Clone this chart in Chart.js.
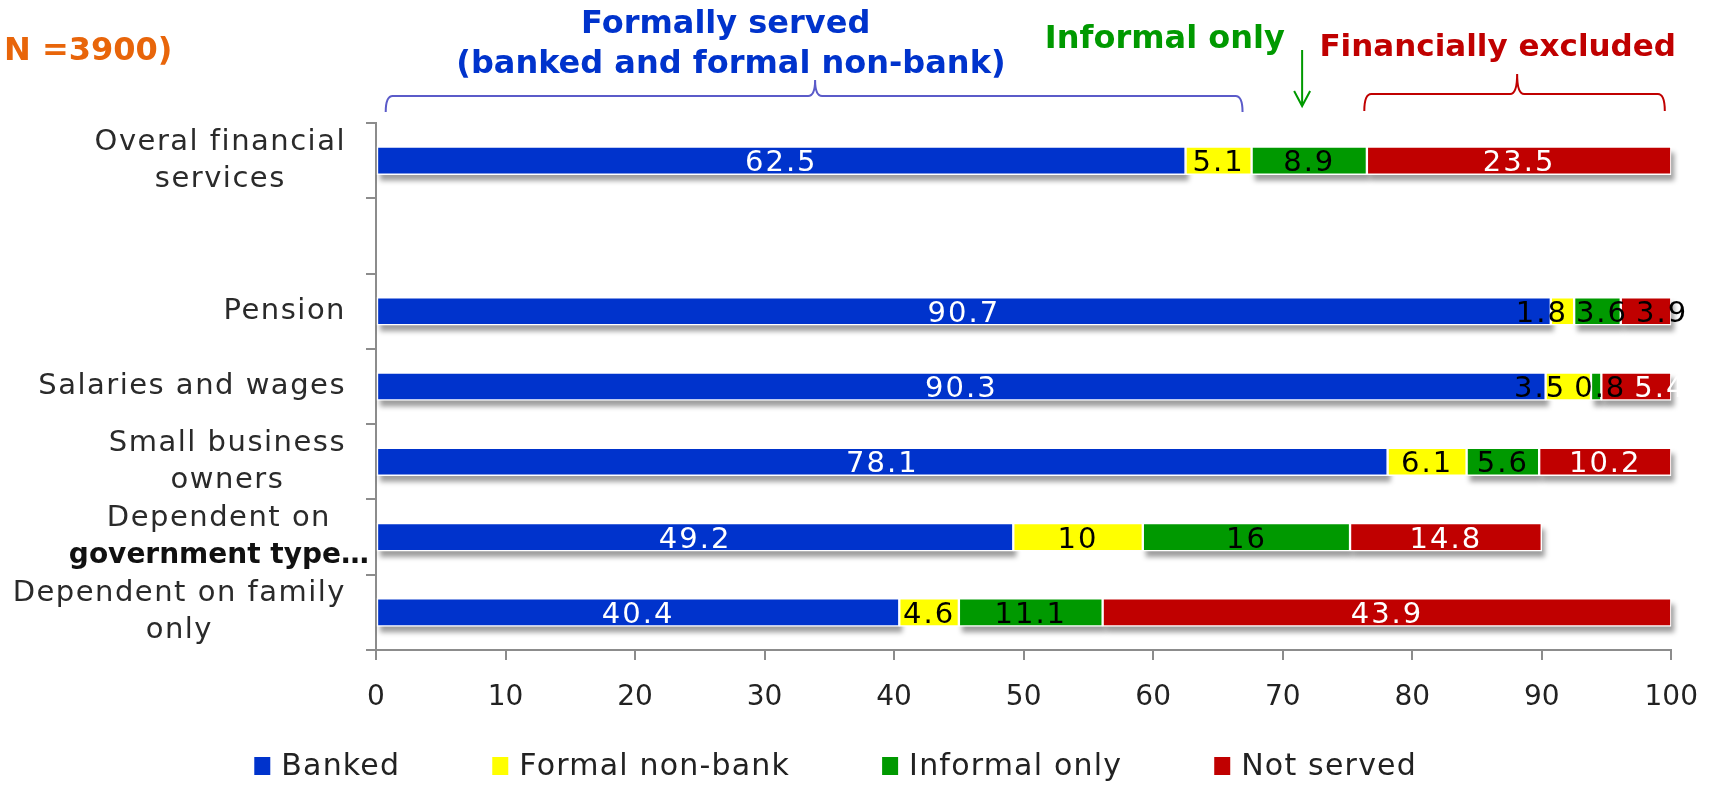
<!DOCTYPE html>
<html>
<head>
<meta charset="utf-8">
<title>Access to financial services by main income source</title>
<script src="https://cdn.jsdelivr.net/npm/chart.js@4.4.1/dist/chart.umd.min.js"></script>
<style>
  html, body { margin: 0; padding: 0; background: #fff; }
  #wrap { width: 1719px; height: 785px; }
</style>
</head>
<body>
<div id="wrap"><canvas id="chart" width="1719" height="785"></canvas></div>
<script>
// rows, top to bottom (the blank row separates the overall bar from the breakdown)
const categories = [
  ['Overal financial', 'services'],
  [''],
  ['Pension'],
  ['Salaries and wages'],
  ['Small business', 'owners'],
  ['Dependent on', 'government type…'],
  ['Dependent on family', 'only'],
];

const seriesNames = ['Banked', 'Formal non-bank', 'Informal only', 'Not served'];
const banked        = [62.5, null, 90.7, 90.3, 78.1, 49.2, 40.4];
const formalNonBank = [5.1,  null, 1.8,  3.5,  6.1,  10,   4.6];
const informalOnly  = [8.9,  null, 3.6,  0.8,  5.6,  16,   11.1];
const notServed     = [23.5, null, 3.9,  5.4,  10.2, 14.8, 43.9];

const xTickValues = [0, 10, 20, 30, 40, 50, 60, 70, 80, 90, 100];

const sampleNote = 'N =3900)';
const formalHeading = ['Formally served', '(banked and formal non-bank)'];
const informalHeading = 'Informal only';
const excludedHeading = 'Financially excluded';

const seriesColors = ['#0033CC', '#FFFF00', '#009900', '#C00000'];
const labelColors = ['#ffffff', '#000000', '#000000', '#ffffff'];

const FAMILY = '"DejaVu Sans", sans-serif';
const font = (size, weight) => `${weight || 'normal'} ${size}px ${FAMILY}`;

// grey drop shadow under the segments, drawn from the bar elements' geometry
const barShadows = {
  id: 'barShadows',
  beforeDatasetsDraw(chart) {
    const { ctx } = chart;
    ctx.save();
    ctx.fillStyle = 'rgba(0,0,0,0.38)';
    ctx.filter = 'blur(2.5px)';
    chart.data.datasets.forEach((ds, di) => {
      if (ds.noShadow) return;
      chart.getDatasetMeta(di).data.forEach((bar, i) => {
        if (ds.data[i] == null) return;
        const left = Math.min(bar.x, bar.base);
        const w = Math.abs(bar.x - bar.base);
        ctx.fillRect(left + 3, bar.y - bar.height / 2 + 6, w, bar.height);
      });
    });
    ctx.restore();
  }
};

// value labels in the middle of each segment; crowded ones are pushed apart
const segmentLabels = {
  id: 'segmentLabels',
  afterDatasetsDraw(chart) {
    const { ctx } = chart;
    ctx.save();
    ctx.font = font(29);
    ctx.letterSpacing = '2px';
    ctx.textAlign = 'center';
    ctx.textBaseline = 'middle';
    chart.data.labels.forEach((_, i) => {
      const row = [];
      chart.data.datasets.forEach((ds, di) => {
        const v = ds.data[i];
        if (v == null) return;
        const bar = chart.getDatasetMeta(di).data[i];
        const text = String(v);
        row.push({
          text,
          cx: (bar.x + bar.base) / 2,
          w: ctx.measureText(text).width,
          span: Math.abs(bar.x - bar.base),
          y: bar.y,
          color: ds.labelColor,
        });
      });
      for (let pass = 0; pass < 30; pass++) {
        for (let k = 0; k < row.length - 1; k++) {
          const a = row[k], b = row[k + 1];
          const overlap = (a.cx + a.w / 2 + 8) - (b.cx - b.w / 2);
          if (overlap > 0) { a.cx -= overlap / 2; b.cx += overlap / 2; }
        }
      }
      row.forEach((l) => {
        // text that is wider than its own segment goes dark
        ctx.fillStyle = l.w > l.span ? '#000' : l.color;
        ctx.fillText(l.text, l.cx, l.y + 3);
      });
    });
    ctx.restore();
  }
};

// wrapped category names: block right-aligned to the axis, lines centred in it
const categoryLabels = {
  id: 'categoryLabels',
  afterDraw(chart) {
    const { ctx } = chart;
    const y = chart.scales.y;
    const right = y.right - 30;
    const plainFont = () => { ctx.font = font(29); ctx.letterSpacing = '1.5px'; ctx.fillStyle = '#2a2a2a'; };
    ctx.save();
    ctx.textAlign = 'center';
    ctx.textBaseline = 'middle';
    chart.data.labels.forEach((lines, i) => {
      const cy = y.getPixelForValue(i);
      plainFont();
      const plain = lines.filter((s) => !s.endsWith('…'));
      const blockW = Math.max(...plain.map((s) => ctx.measureText(s).width));
      // a cut-off line widens the block a little
      const extra = plain.length < lines.length ? 15 : 0;
      const cx = right - blockW / 2 - extra;
      lines.forEach((s, k) => {
        const ly = cy + (k - (lines.length - 1) / 2) * 37;
        if (s.endsWith('…')) {
          ctx.font = font(28, 'bold');
          ctx.letterSpacing = '0px';
          ctx.fillStyle = '#111';
        } else {
          plainFont();
        }
        ctx.fillText(s, cx, ly);
      });
    });
    ctx.restore();
  }
};

// legend row under the axis: colour square + series name
const bottomLegend = {
  id: 'bottomLegend',
  afterDraw(chart) {
    const { ctx } = chart;
    const boxW = 16, boxH = 18, gap = 11, spacing = 92, cy = 766;
    ctx.save();
    ctx.font = font(30);
    ctx.letterSpacing = '1.2px';
    ctx.textAlign = 'left';
    ctx.textBaseline = 'middle';
    const items = chart.data.datasets.map((ds) => ({
      text: ds.label,
      color: ds.backgroundColor,
      w: boxW + gap + ctx.measureText(ds.label).width,
    }));
    const total = items.reduce((s, it) => s + it.w, 0) + spacing * (items.length - 1);
    let x = chart.chartArea.right / 2 - total / 2;
    items.forEach((it) => {
      ctx.fillStyle = it.color;
      ctx.fillRect(x, cy - boxH / 2, boxW, boxH);
      ctx.fillStyle = '#222';
      ctx.fillText(it.text, x + boxW + gap, cy + 1);
      x += it.w + spacing;
    });
    ctx.restore();
  }
};

function drawBrace(ctx, x1, x2, xm, yLine, yEnd, yPeak, r) {
  ctx.beginPath();
  ctx.moveTo(x1, yEnd);
  ctx.quadraticCurveTo(x1, yLine, x1 + r, yLine);
  ctx.lineTo(xm - r, yLine);
  ctx.quadraticCurveTo(xm, yLine, xm, yPeak);
  ctx.quadraticCurveTo(xm, yLine, xm + r, yLine);
  ctx.lineTo(x2 - r, yLine);
  ctx.quadraticCurveTo(x2, yLine, x2, yEnd);
  ctx.stroke();
}

// group headings, braces and arrow above the plot, placed on the x scale
const groupNotes = {
  id: 'groupNotes',
  afterDraw(chart) {
    const { ctx } = chart;
    const px = (v) => chart.scales.x.getPixelForValue(v);
    ctx.save();
    ctx.font = font(32, 'bold');
    ctx.textBaseline = 'alphabetic';

    ctx.textAlign = 'left';
    ctx.fillStyle = '#E8650A';
    ctx.fillText(sampleNote, 4, 60);

    ctx.textAlign = 'center';
    ctx.fillStyle = '#0033CC';
    ctx.fillText(formalHeading[0], px(27), 33);
    ctx.fillText(formalHeading[1], px(27.4), 73);

    ctx.fillStyle = '#009900';
    ctx.fillText(informalHeading, px(60.9), 48);

    ctx.fillStyle = '#C00000';
    ctx.font = font(31, 'bold');
    ctx.fillText(excludedHeading, px(86.6), 56);

    ctx.lineWidth = 2;
    ctx.strokeStyle = '#5B5BC9';
    drawBrace(ctx, px(0.75), px(66.9), px(33.9), 96, 112, 80, 7);
    ctx.strokeStyle = '#C00000';
    drawBrace(ctx, px(76.3), px(99.5), px(88.1), 94, 111, 74, 7);

    const ax = px(71.5);
    ctx.strokeStyle = '#009900';
    ctx.beginPath();
    ctx.moveTo(ax, 50);
    ctx.lineTo(ax, 106);
    ctx.moveTo(ax - 8, 91);
    ctx.lineTo(ax, 106);
    ctx.lineTo(ax + 8, 91);
    ctx.stroke();
    ctx.restore();
  }
};

const seriesValues = [banked, formalNonBank, informalOnly, notServed];

new Chart(document.getElementById('chart'), {
  type: 'bar',
  data: {
    labels: categories,
    datasets: seriesNames.map((name, i) => ({
      label: name,
      data: seriesValues[i],
      backgroundColor: seriesColors[i],
      borderColor: '#ffffff',
      borderWidth: 1.5,
      borderSkipped: false,
      barThickness: 28,
      labelColor: labelColors[i],
      noShadow: i === 1,
    })),
  },
  options: {
    indexAxis: 'y',
    responsive: false,
    animation: false,
    layout: { padding: { top: 123, left: 0, right: 42, bottom: 0 } },
    scales: {
      x: {
        stacked: true,
        min: 0,
        max: 100,
        afterBuildTicks: (scale) => { scale.ticks = xTickValues.map((v) => ({ value: v })); },
        afterFit: (scale) => { scale.height = 135; },
        border: { display: true, color: '#8c8c8c', width: 2 },
        grid: { drawOnChartArea: false, drawTicks: true, tickLength: 10, color: '#8c8c8c', lineWidth: 2 },
        ticks: { color: '#222', padding: 21, font: { size: 28, family: FAMILY }, maxRotation: 0, autoSkip: false },
      },
      y: {
        stacked: true,
        afterFit: (scale) => { scale.width = 376; },
        border: { display: true, color: '#8c8c8c', width: 2 },
        grid: { drawOnChartArea: false, drawTicks: true, tickLength: 10, color: '#8c8c8c', lineWidth: 2 },
        ticks: { display: false },
      },
    },
    plugins: {
      legend: { display: false },
      tooltip: { enabled: false },
    },
  },
  plugins: [barShadows, segmentLabels, categoryLabels, bottomLegend, groupNotes],
});
</script>
</body>
</html>
